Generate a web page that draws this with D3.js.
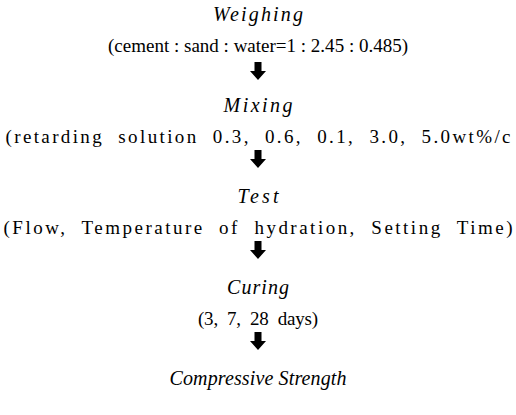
<!DOCTYPE html>
<html><head><meta charset="utf-8">
<script src="https://cdn.jsdelivr.net/npm/d3@7"></script>
<style>html,body{margin:0;padding:0;background:#fff;}svg{display:block;}</style>
</head><body>
<svg id="c" width="516" height="415"></svg>
<script>
const steps = ["Weighing", "Mixing", "Test", "Curing", "Compressive Strength"];
const details = [
  "(cement : sand : water=1 : 2.45 : 0.485)",
  "(retarding  solution  0.3,  0.6,  0.1,  3.0,  5.0wt%/c",
  "(Flow,  Temperature  of  hydration,  Setting  Time)",
  "(3,  7,  28  days)"
];
const stepWidths = [90, 69, 41, 62, 177];
const detailWidths = [300, 505, 509, 120];

const svg = d3.select("#c");
const cx = 258;
const y = d3.scaleLinear().domain([0, 4]).range([21, 385]);

const g = svg.append("g")
  .attr("font-family", "Times New Roman, Liberation Serif, serif")
  .attr("fill", "#000");

g.selectAll("text.step").data(steps).join("text")
  .attr("class", "step")
  .attr("x", cx).attr("y", (d, i) => y(i))
  .attr("text-anchor", "middle")
  .attr("font-style", "italic")
  .attr("font-size", 20)
  .attr("textLength", (d, i) => stepWidths[i])
  .attr("lengthAdjust", "spacing")
  .text(d => d);

g.selectAll("text.det").data(details).join("text")
  .attr("class", "det")
  .attr("x", cx).attr("y", (d, i) => y(i) + 31)
  .attr("text-anchor", "middle")
  .attr("font-size", 19)
  .attr("textLength", (d, i) => detailWidths[i])
  .attr("lengthAdjust", "spacing")
  .style("white-space", "pre")
  .text(d => d);

const arrow = (top) => {
  const h = 18, sw = 3.5, hw = 8, hh = 9;
  return `M${cx - sw},${top} L${cx + sw},${top} L${cx + sw},${top + h - hh} L${cx + hw},${top + h - hh} L${cx},${top + h} L${cx - hw},${top + h - hh} L${cx - sw},${top + h - hh} Z`;
};
g.selectAll("path.arr").data(d3.range(4)).join("path")
  .attr("class", "arr")
  .attr("d", i => arrow(y(i) + 41 - (i === 0 ? 0 : 3)))
  .attr("fill", "#000");
</script>
</body></html>
